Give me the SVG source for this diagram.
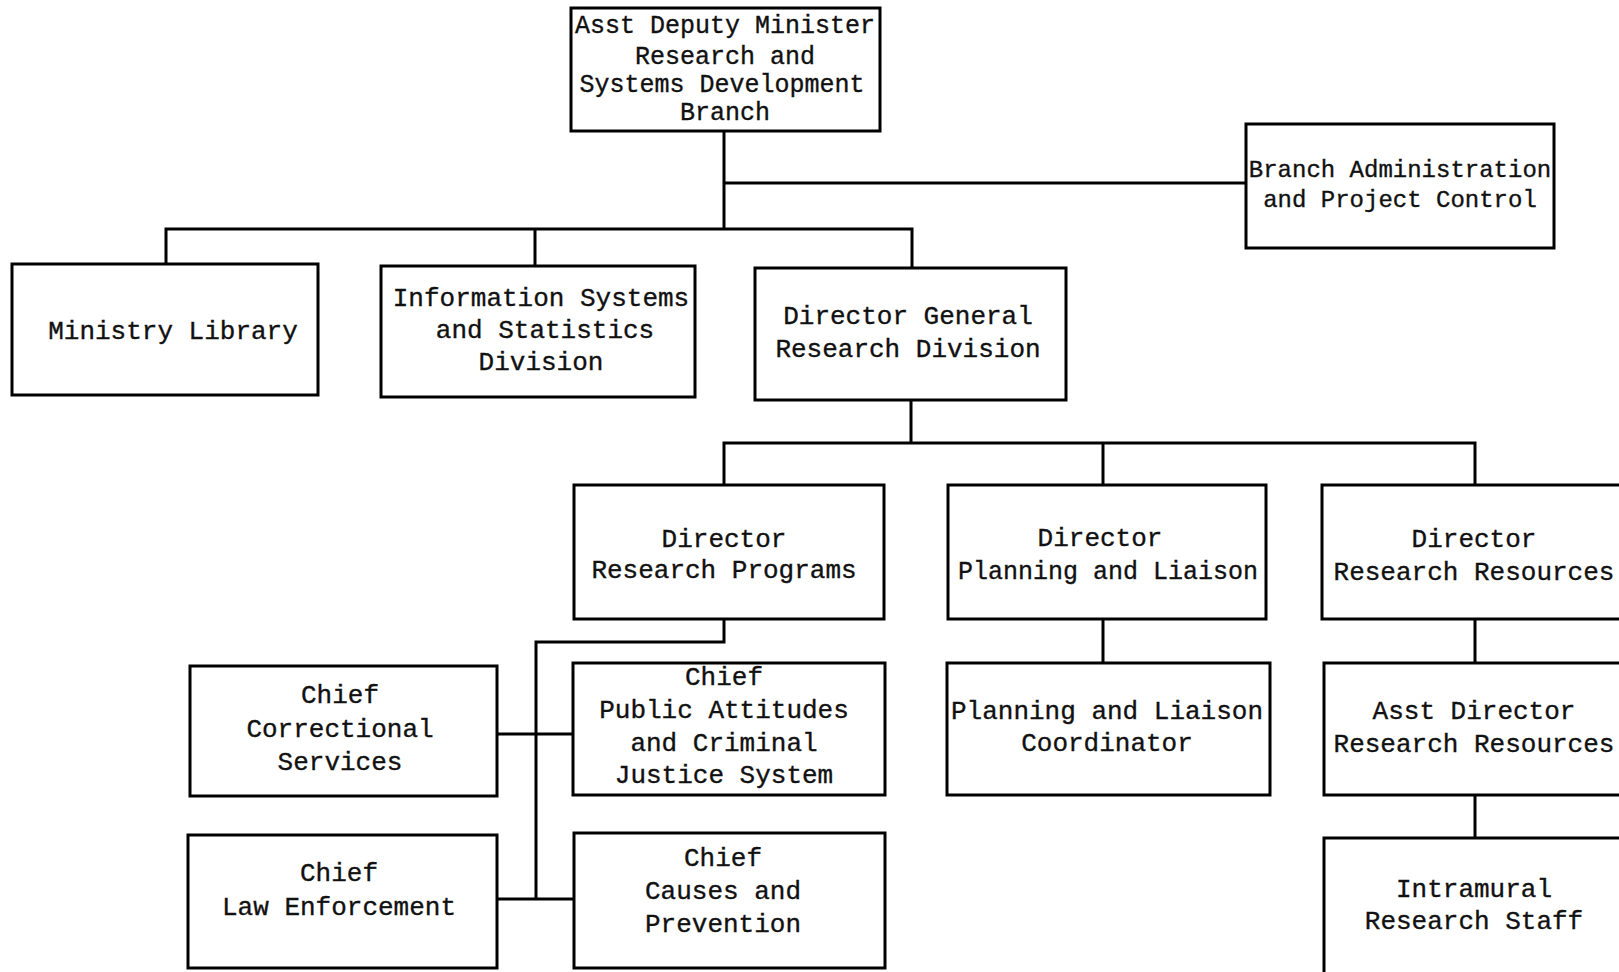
<svg xmlns="http://www.w3.org/2000/svg" width="1619" height="972" viewBox="0 0 1619 972">
<style>
.box{fill:#fff;stroke:#000;stroke-width:3}
.c{fill:none;stroke:#000;stroke-width:3;stroke-linecap:square}
text{font-family:"Liberation Mono","DejaVu Sans Mono",monospace;font-size:26px;fill:#111;text-anchor:middle;stroke:#111;stroke-width:0.35}
</style>
<rect width="1619" height="972" fill="#fff"/>
<g id="connectors">
<path class="c" d="M724 131V229M724 183H1246M166 229H912M166 229V264M535 229V266M912 229V268"/>
<path class="c" d="M911 400V443M724 443H1475M724 443V485M1103 443V485M1475 443V485"/>
<path class="c" d="M1103 619V663M1475 619V663M1475 795V838"/>
<path class="c" d="M724 619V642H536V899M497 734H573M497 899H574"/>
</g>
<g id="adm"><rect class="box" x="571" y="8" width="309" height="123"/>
<text x="725" y="33" style="font-size:25px">Asst Deputy Minister</text>
<text x="725" y="64" style="font-size:25px">Research and</text>
<text x="722" y="92" style="font-size:25px">Systems Development</text>
<text x="725" y="120" style="font-size:25px">Branch</text></g>
<g id="branch-admin"><rect class="box" x="1246" y="124" width="308" height="124"/>
<text x="1400" y="177" style="font-size:24px">Branch Administration</text>
<text x="1400" y="207" style="font-size:24px">and Project Control</text></g>
<g id="ministry-library"><rect class="box" x="12" y="264" width="306" height="131"/>
<text x="173" y="339">Ministry Library</text></g>
<g id="info-systems"><rect class="box" x="381" y="266" width="314" height="131"/>
<text x="541" y="306">Information Systems</text>
<text x="545" y="338">and Statistics</text>
<text x="541" y="370">Division</text></g>
<g id="dg-research"><rect class="box" x="755" y="268" width="311" height="132"/>
<text x="908" y="324">Director General</text>
<text x="908" y="357">Research Division</text></g>
<g id="dir-research-programs"><rect class="box" x="574" y="485" width="310" height="134"/>
<text x="724" y="547">Director</text>
<text x="724" y="578">Research Programs</text></g>
<g id="dir-planning"><rect class="box" x="948" y="485" width="318" height="134"/>
<text x="1100" y="546">Director</text>
<text x="1108" y="579" style="font-size:25px">Planning and Liaison</text></g>
<g id="dir-research-resources"><rect class="box" x="1322" y="485" width="310" height="134"/>
<text x="1474" y="547">Director</text>
<text x="1474" y="580">Research Resources</text></g>
<g id="planning-coordinator"><rect class="box" x="947" y="663" width="323" height="132"/>
<text x="1107" y="719">Planning and Liaison</text>
<text x="1107" y="751">Coordinator</text></g>
<g id="asst-dir-research-resources"><rect class="box" x="1324" y="663" width="310" height="132"/>
<text x="1474" y="719">Asst Director</text>
<text x="1474" y="752">Research Resources</text></g>
<g id="intramural-staff"><rect class="box" x="1324" y="838" width="310" height="150"/>
<text x="1474" y="897">Intramural</text>
<text x="1474" y="929">Research Staff</text></g>
<g id="chief-correctional"><rect class="box" x="190" y="666" width="307" height="130"/>
<text x="340" y="703">Chief</text>
<text x="340" y="737">Correctional</text>
<text x="340" y="770">Services</text></g>
<g id="chief-public-attitudes"><rect class="box" x="573" y="663" width="312" height="132"/>
<text x="724" y="685">Chief</text>
<text x="724" y="718">Public Attitudes</text>
<text x="724" y="751">and Criminal</text>
<text x="724" y="783">Justice System</text></g>
<g id="chief-law-enforcement"><rect class="box" x="188" y="835" width="309" height="133"/>
<text x="339" y="881">Chief</text>
<text x="339" y="915">Law Enforcement</text></g>
<g id="chief-causes"><rect class="box" x="574" y="833" width="311" height="135"/>
<text x="723" y="866">Chief</text>
<text x="723" y="899">Causes and</text>
<text x="723" y="932">Prevention</text></g>
</svg>
